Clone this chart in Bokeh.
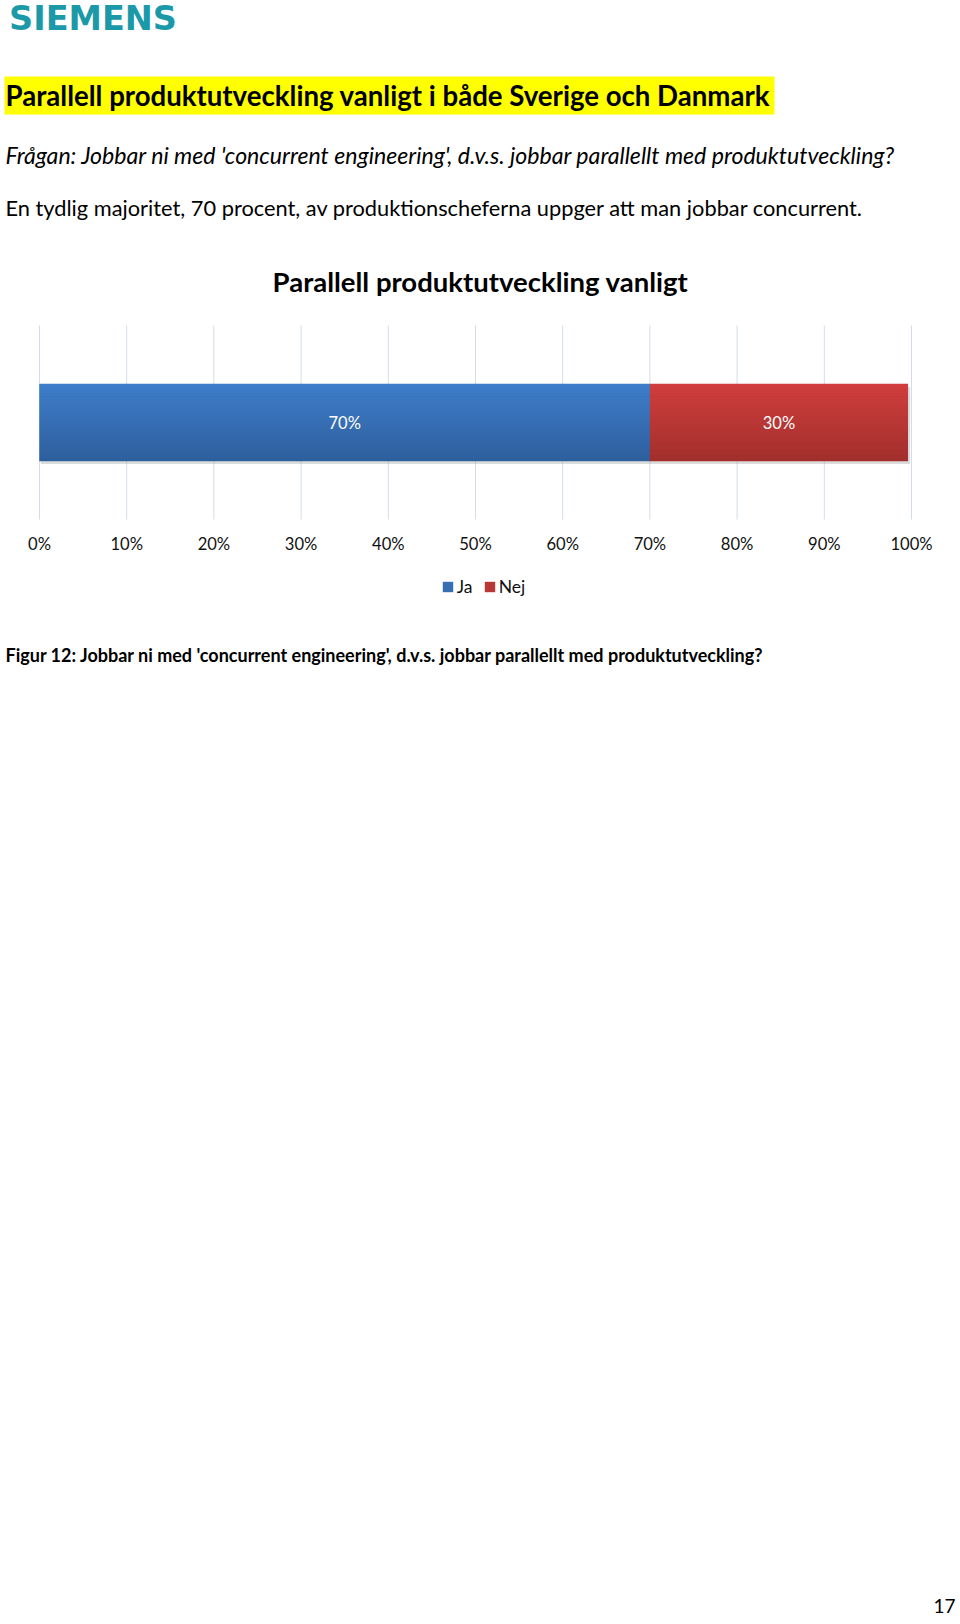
from bokeh.plotting import figure
from bokeh.models import Range1d, Label, BoxAnnotation, Legend, LegendItem, ColumnDataSource
from bokeh.embed import file_html
from bokeh.resources import INLINE
from bokeh.core.properties import value

# ---------------- data ----------------
categories = ["Parallell produktutveckling"]
series_names = ["Ja", "Nej"]
ja_values = [70.0]
nej_values = [29.6]
x_ticks = [0, 10, 20, 30, 40, 50, 60, 70, 80, 90, 100]
tick_labels = ["0%", "10%", "20%", "30%", "40%", "50%", "60%", "70%", "80%", "90%", "100%"]

logo_text = "SIEMENS"
headline_text = "Parallell produktutveckling vanligt i både Sverige och Danmark"
question_text = "Frågan: Jobbar ni med 'concurrent engineering', d.v.s. jobbar parallellt med produktutveckling?"
summary_text = "En tydlig majoritet, 70 procent, av produktionscheferna uppger att man jobbar concurrent."
chart_title_text = "Parallell produktutveckling vanligt"
caption_text = "Figur 12: Jobbar ni med 'concurrent engineering', d.v.s. jobbar parallellt med produktutveckling?"
page_number_text = "17"

# ---------------- layout (page pixels) ----------------
W, H = 960, 1620
PLOT_L, PLOT_R = 39, 911          # x of 0% and 100%
BAND_TOP, BAND_BOT = 325, 519     # plot area (one category band)
BAR_FRAC = 0.398                  # bar thickness as fraction of band
PX_X = (PLOT_R - PLOT_L) / 100.0
PX_Y = float(BAND_BOT - BAND_TOP)
BAND_MID = (BAND_TOP + BAND_BOT) / 2.0

BLUE_TOP, BLUE_BOT = "#3e7ecb", "#2e5e9c"
RED_TOP, RED_BOT = "#d03e3d", "#a12f2c"
BLUE_MID, RED_MID = "#366eb4", "#b93735"
GRID = "#d3dde8"
FONT = "Lato"
N_SLICES = 24


def dx(px):
    return (px - PLOT_L) / PX_X


def dy(py):
    return (BAND_MID - py) / PX_Y


def mix(c0, c1, t):
    a = [int(c0[i:i + 2], 16) for i in (1, 3, 5)]
    b = [int(c1[i:i + 2], 16) for i in (1, 3, 5)]
    return "#%02x%02x%02x" % tuple(round(a[i] + (b[i] - a[i]) * t) for i in range(3))


p = figure(width=W, height=H, output_backend="svg", toolbar_location=None,
           x_range=Range1d(dx(0), dx(W)), y_range=Range1d(dy(H), dy(0)),
           x_axis_location=None, y_axis_location=None, min_border=0)
p.outline_line_color = None
p.xgrid.visible = False
p.ygrid.visible = False

cat_pos = list(range(len(categories)))

# grid lines spanning the category band
p.segment(x0=x_ticks, x1=x_ticks, y0=[cat_pos[0] - 0.5] * len(x_ticks),
          y1=[cat_pos[-1] + 0.5] * len(x_ticks), line_color=GRID, line_width=1)

# soft shadow under the bar
totals = [a + b for a, b in zip(ja_values, nej_values)]
p.hbar(y=[c - 3.0 / PX_Y for c in cat_pos], left=[0.15] * len(cat_pos), right=[t + 0.25 for t in totals],
       height=BAR_FRAC, fill_color="#9a9a9a", fill_alpha=0.35, line_color=None)

# stacked bar (solid, used for legend)
src = ColumnDataSource(dict(y=cat_pos, Ja=ja_values, Nej=nej_values))
rs = p.hbar_stack(series_names, y="y", height=BAR_FRAC, color=[BLUE_MID, RED_MID], source=src,
                  line_color=None)

# vertical gradient overlay (top -> bottom)
for k in range(N_SLICES):
    t = (k + 0.5) / N_SLICES
    ys = [c + BAR_FRAC * (0.5 - t) for c in cat_pos]
    h = BAR_FRAC / N_SLICES * 1.06
    p.hbar(y=ys, left=[0] * len(cat_pos), right=ja_values, height=h,
           fill_color=mix(BLUE_TOP, BLUE_BOT, t), line_color=None)
    p.hbar(y=ys, left=ja_values, right=totals, height=h,
           fill_color=mix(RED_TOP, RED_BOT, t), line_color=None)

# data labels
mids = [ja_values[0] / 2, ja_values[0] + nej_values[0] / 2]
lab_src = ColumnDataSource(dict(
    x=mids, y=[cat_pos[0]] * 2,
    t=["%d%%" % round(ja_values[0]), "%d%%" % round(nej_values[0])]))
p.text(x="x", y="y", text="t", source=lab_src, text_align="center", text_baseline="middle",
       text_color="white", text_font=value(FONT), text_font_size="16.5px")

# tick labels
tick_src = ColumnDataSource(dict(x=x_ticks, y=[dy(543.3)] * len(x_ticks), t=tick_labels))
p.text(x="x", y="y", text="t", source=tick_src, text_align="center", text_baseline="alphabetic",
       text_color="#111111", text_font=value(FONT), text_font_size="16.6px")

# legend
legend = Legend(items=[LegendItem(label=series_names[0], renderers=[rs[0]]),
                       LegendItem(label=series_names[1], renderers=[rs[1]])],
                orientation="horizontal", location=(440.7, H - 597),
                glyph_width=13, glyph_height=13, label_standoff=3, spacing=6,
                label_text_font=FONT, label_text_font_size="17.5px", label_text_color="#111111",
                border_line_color=None, background_fill_alpha=0, padding=0, margin=0)
p.add_layout(legend, "center")

# page texts
p.add_layout(BoxAnnotation(left=dx(4), right=dx(774), top=dy(76), bottom=dy(114),
                           fill_color="#ffff00", fill_alpha=1, line_color=None, level="underlay"))


def page_text(txt, px, py, size, style="normal", align="left", font=FONT, color="black"):
    p.add_layout(Label(x=dx(px), y=dy(py), text=txt, text_font=font, text_font_style=style,
                       text_font_size=size, text_color=color, text_align=align,
                       text_baseline="alphabetic"))


page_text(logo_text, 92.5, 17.5, "33.5px", "bold", "center", "DejaVu Sans", "#1c99a8")
page_text(headline_text, 5, 95.1, "27.6px", "bold")
page_text(question_text, 5, 154.2, "23.1px", "italic")
page_text(summary_text, 5, 206.7, "21.8px")
page_text(chart_title_text, 480, 280.6, "27.5px", "bold", "center")
page_text(caption_text, 5, 654.2, "18px", "bold")
page_text(page_number_text, 955, 1605, "19px", "normal", "right")

open("out.html", "w").write(file_html(p, INLINE))
